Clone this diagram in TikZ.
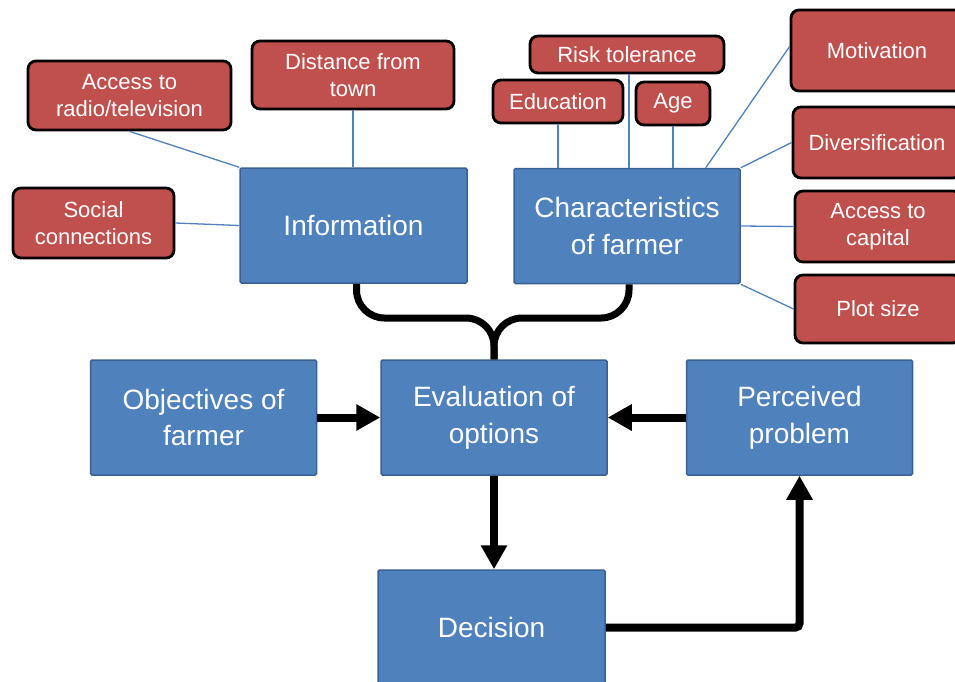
\documentclass[tikz,border=0pt]{standalone}
\usepackage{fontspec}
\setmainfont{Liberation Sans}
\usetikzlibrary{arrows.meta, positioning}
\definecolor{fmBlue}{HTML}{4F81BD}
\definecolor{fmBlueEdge}{HTML}{3A6192}
\definecolor{fmRed}{HTML}{C0504D}
\tikzset{
  mainbox/.style={rectangle, rounded corners=1.5pt, draw=fmBlueEdge, line width=1.5pt,
                  fill=fmBlue, text=white, align=center, inner sep=0pt,
                  font=\fontsize{28}{36.5}\selectfont,
                  minimum width=226pt, minimum height=115pt},
  factorbox/.style={rectangle, rounded corners=8pt, draw=black, line width=2.8pt,
                    fill=fmRed, text=white, align=center, inner sep=0pt,
                    font=\fontsize{22}{27}\selectfont},
  link/.style={draw=fmBlue, line width=1.3pt},
  flowarrow/.style={-{Triangle[length=24pt, width=25pt]}, line width=8pt},
}
\begin{document}
\begin{tikzpicture}[x=1pt, y=-1pt,
  joinline/.style={line width=7pt, rounded corners=28pt}]
  \useasboundingbox (0,0) rectangle (955,681);
  \clip (0,0) rectangle (955,681);
  % decision chain
  \node[mainbox](eval) at (494,417.5){Evaluation of\\options};
  \node[mainbox, left=63pt of eval](obj){Objectives of\\farmer};
  \node[mainbox, right=78pt of eval](perc){Perceived\\problem};
  \node[mainbox, minimum width=227pt](dec) at (491.5,627.5){Decision};
  \node[mainbox, minimum width=227pt](info) at (353.5,225.5){Information};
  \node[mainbox](farmer) at (627,226){Characteristics\\of farmer};
  % factors feeding information
  \node[factorbox, minimum width=203pt, minimum height=69pt](radio) at (129.5,95.5){Access to\\radio/television};
  \node[factorbox, minimum width=202pt, minimum height=68pt](town) at (353,75){Distance from\\town};
  \node[factorbox, minimum width=161pt, minimum height=70pt](social) at (93.5,223){Social\\connections};
  % factors of the farmer
  \node[factorbox, minimum width=194pt, minimum height=37pt](risk) at (627,54.5){Risk tolerance};
  \node[factorbox, minimum width=130pt, minimum height=43pt](edu) at (558,101.5){Education};
  \node[factorbox, minimum width=74pt, minimum height=43pt](age) at (673,103.5){Age};
  \node[factorbox, minimum width=172pt, minimum height=81pt](motiv) at (877,50.5){Motivation};
  \node[factorbox, minimum width=168pt, minimum height=71pt](divers) at (877,142.5){Diversification};
  \node[factorbox, minimum width=166pt, minimum height=71pt](capital) at (878,226.5){Access to\\capital};
  \node[factorbox, minimum width=166pt, minimum height=68pt](plot) at (878,309){Plot size};
  % thin links
  \draw[link](radio.south)--(info.north west);
  \draw[link](town.south)--(town.south |- info.north);
  \draw[link](social.east)--(info.west);
  \draw[link](edu.south)--(edu.south |- farmer.north);
  \draw[link]([xshift=2pt]risk.south)--([xshift=2pt]risk.south |- farmer.north);
  \draw[link](age.south)--(age.south |- farmer.north);
  \draw[link]([yshift=4pt]motiv.west)--([xshift=-35pt]farmer.north east);
  \draw[link](divers.west)--(farmer.north east);
  \draw[link](capital.west)--(farmer.east);
  \draw[link](plot.west)--(farmer.south east);
  % both inputs join into the evaluation
  \coordinate(merge) at (494,318);
  \draw[joinline]([xshift=3pt]info.south) |- (merge) -- (eval.north);
  \draw[joinline]([xshift=2pt]farmer.south) |- (merge) -- (eval.north);
  % flow arrows
  \draw[flowarrow](obj.east)--(eval.west);
  \draw[flowarrow](perc.west)--(eval.east);
  \draw[flowarrow](eval.south)--(eval.south |- dec.north);
  \draw[flowarrow, rounded corners=4pt](dec.east) -| (perc.south);
\end{tikzpicture}
\end{document}
